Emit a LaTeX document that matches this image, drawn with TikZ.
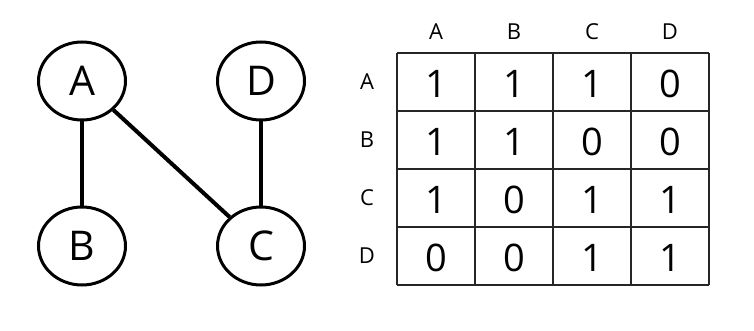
\documentclass[tikz,border=0pt]{standalone}
\usepackage{fontspec}
\setmainfont{Open Sans}
\usetikzlibrary{shapes.geometric}
\begin{document}
\begin{tikzpicture}[x=1pt,y=-1pt,
  vert/.style={draw,line width=3pt,ellipse,minimum width=87pt,minimum height=78pt,inner sep=0pt,font=\fontsize{41}{41}\selectfont},
  edge/.style={line width=4pt},
  grid/.style={line width=1.8pt,draw=black!85},
  hdr/.style={font=\fontsize{22}{22}\selectfont},
  cell/.style={font=\fontsize{38}{38}\selectfont}]
\useasboundingbox (0,0) rectangle (754,331);
\node[vert] (A) at (82,81) {A};
\node[vert] (D) at (261,81) {D};
\node[vert] (B) at (82,246) {B};
\node[vert] (C) at (261,246) {C};
\draw[edge] (A) -- (B);
\draw[edge] (A) -- (C);
\draw[edge] (D) -- (C);
% table
\foreach \x in {397,475,553,631,709} \draw[grid] (\x,53) -- (\x,285);
\foreach \y in {53,111,169,227,285} \draw[grid] (397,\y) -- (709,\y);
\foreach \l [count=\i from 0] in {A,B,C,D} {
  \node[hdr] (col\l) at (436+78*\i,32) {\l};
  \node[hdr] (row\l) at (367,82+58*\i) {\l};
}
\foreach \r [count=\i from 0] in {{1,1,1,0},{1,1,0,0},{1,0,1,1},{0,0,1,1}} {
  \foreach \v [count=\j from 0] in \r {
    \node[cell] (m\i\j) at (436+78*\j,84+58*\i) {\v};
  }
}
\end{tikzpicture}
\end{document}
